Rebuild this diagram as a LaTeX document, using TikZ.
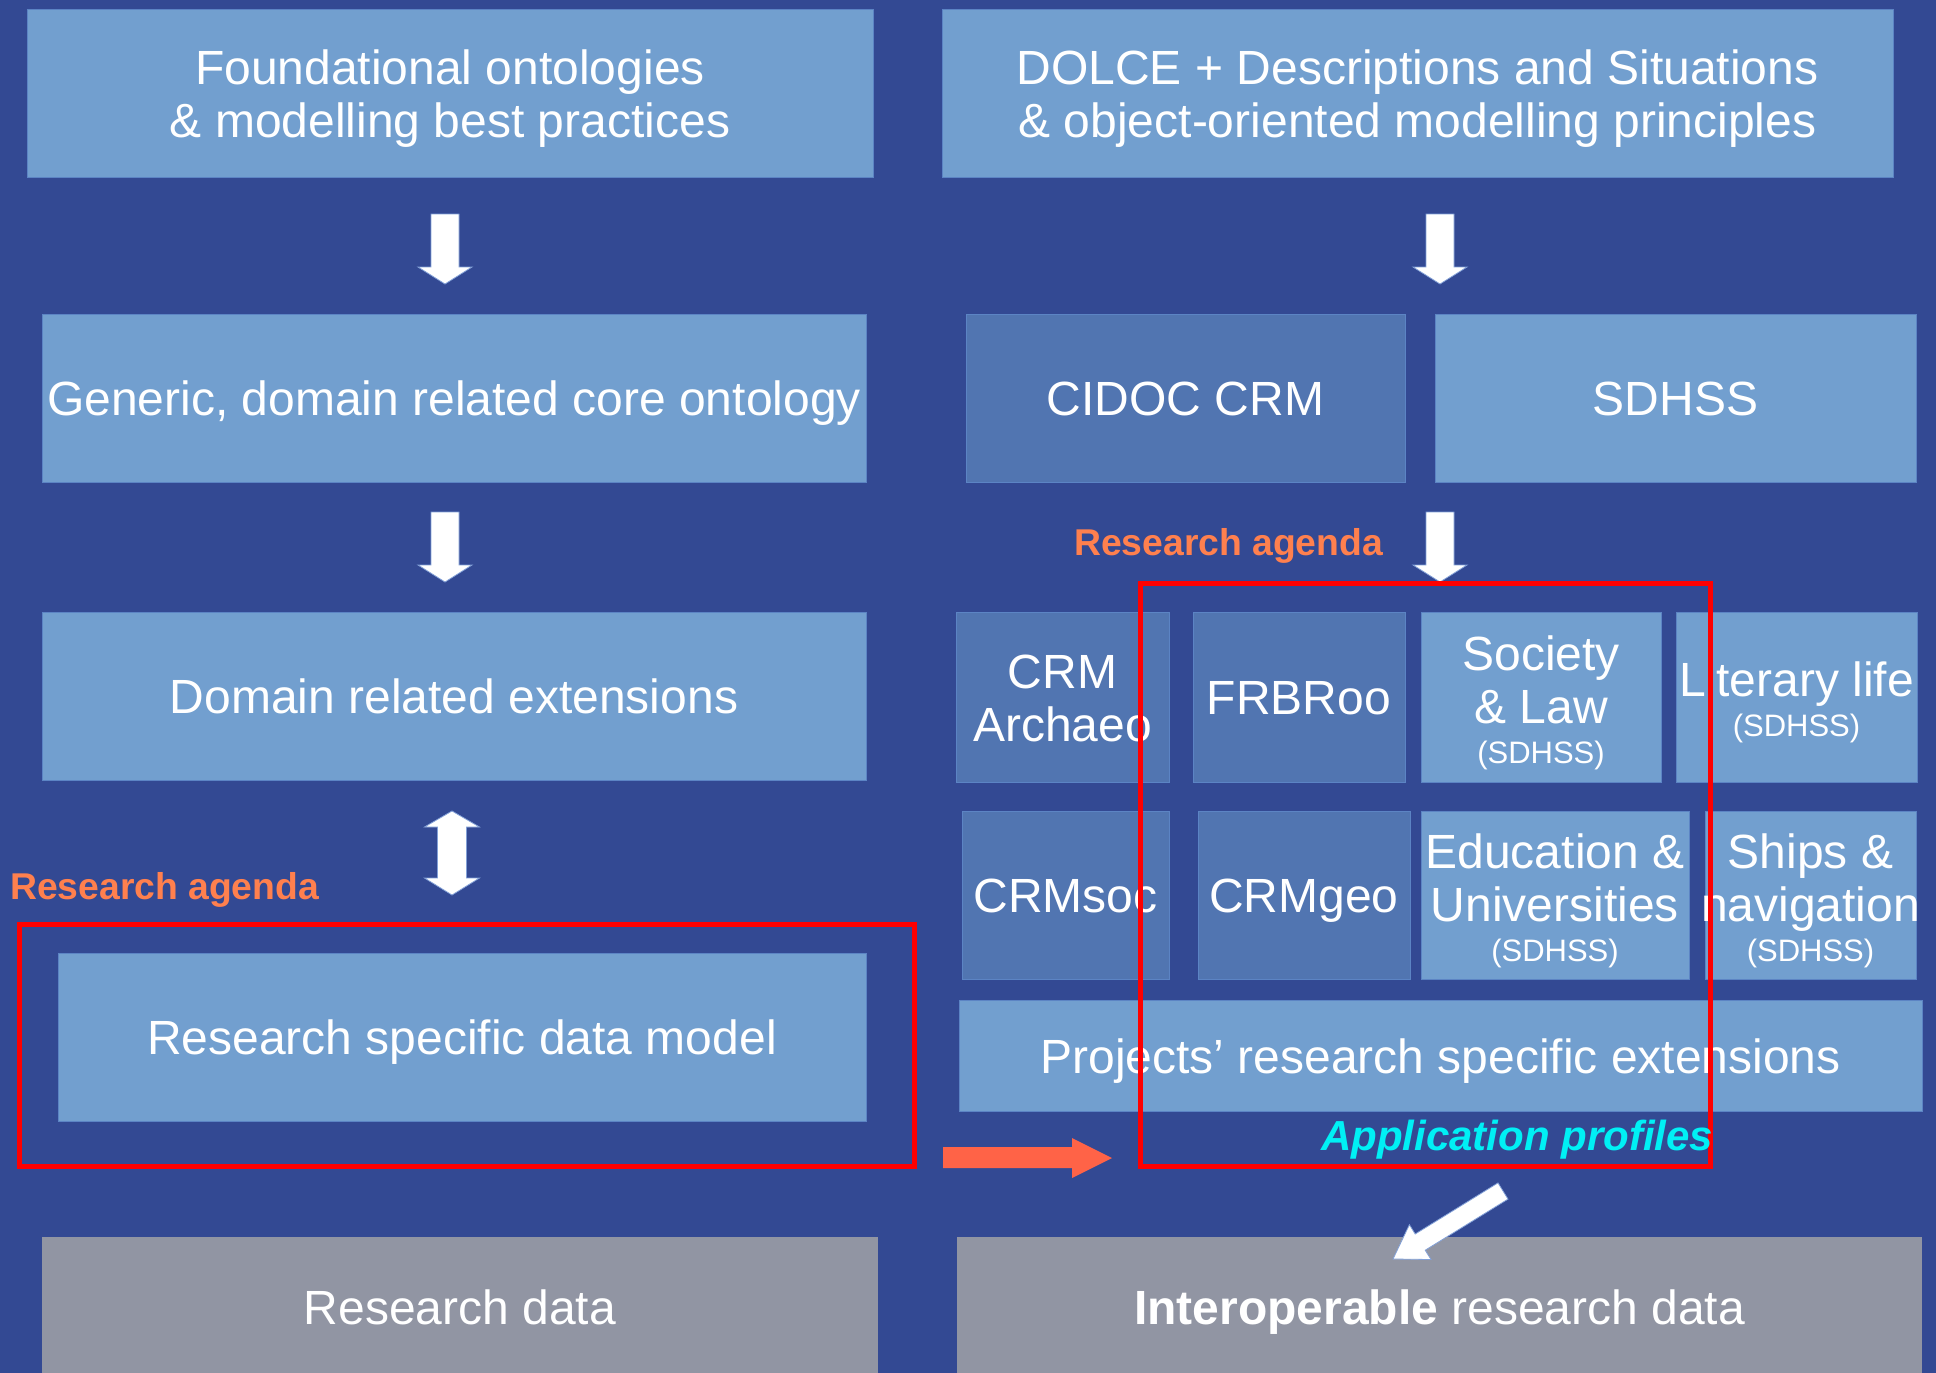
\documentclass[tikz,border=0pt]{standalone}
\usepackage{fontspec}
\setmainfont{Liberation Sans}
\definecolor{bg}{RGB}{51,73,147}
\definecolor{lightbox}{RGB}{114,159,207}
\definecolor{darkbox}{RGB}{81,117,177}
\definecolor{boxline}{RGB}{92,132,196}
\definecolor{graybox}{RGB}{145,149,163}
\definecolor{agenda}{RGB}{255,128,78}
\definecolor{orangearrow}{RGB}{255,99,71}
\definecolor{profiles}{RGB}{0,240,245}
\definecolor{redframe}{RGB}{255,0,0}
\definecolor{arrowline}{RGB}{130,160,215}
\newcommand{\sdfont}{\fontsize{31}{36}\selectfont}
\newcommand{\ts}{\rule{0pt}{46pt}}
\newcommand{\bs}{\rule[-11pt]{0pt}{11pt}}
\tikzset{
  box/.style={draw=boxline, line width=1pt, inner sep=0pt, outer sep=0pt,
    anchor=north west, text=white, align=center, font=\fontsize{48}{53}\selectfont},
  lbox/.style={box, fill=lightbox},
  dbox/.style={box, fill=darkbox},
  gbox/.style={box, fill=graybox, draw=none},
  agendalabel/.style={text=agenda, font=\fontsize{37.3}{41}\selectfont\bfseries, inner sep=0pt, anchor=base west},
  proflabel/.style={text=profiles, font=\fontsize{42}{46}\selectfont\bfseries\itshape, inner sep=0pt, anchor=base west},
  frame/.style={draw=redframe, line width=5pt},
  whitearrow/.style={fill=white, draw=arrowline, line width=0.8pt},
  downarr/.pic={\path[whitearrow] (-14,0) -- (14,0) -- (14,53) -- (27,53) -- (0,70) -- (-27,53) -- (-14,53) -- cycle;}
}
\begin{document}
\begin{tikzpicture}[x=1pt,y=-1pt]
\useasboundingbox (0,0) rectangle (1936,1373);
\clip (0,0) rectangle (1936,1373);
\fill[bg] (0,0) rectangle (1936,1373);

% top row
\node[lbox, minimum width=846, minimum height=168] (found) at (27,9) {\ts Foundational ontologies\\\& modelling best practices\bs};
\node[lbox, minimum width=951, minimum height=168] (dolce) at (942,9) {\ts DOLCE + Descriptions and Situations\\\& object-oriented modelling principles\bs};

% second row
\node[lbox, minimum width=824, minimum height=168] (generic) at (42,314) {\ts Generic, domain related core ontology\bs};
\node[dbox, minimum width=439, minimum height=168] (cidoc) at (966,314) {\ts CIDOC CRM\bs};
\node[lbox, minimum width=481, minimum height=168] (sdhss) at (1435,314) {\ts SDHSS\bs};

% third row
\node[lbox, minimum width=824, minimum height=168] (domain) at (42,612) {\ts Domain related extensions\bs};
\node[dbox, minimum width=213, minimum height=170] (archaeo) at (956,612) {\ts CRM\\Archaeo\bs};
\node[dbox, minimum width=212, minimum height=170] (frbroo) at (1193,612) {\ts FRBRoo\bs};
\node[lbox, minimum width=240, minimum height=170] (society) at (1421,612) {\ts Society\\\& Law\\[-13pt]{\sdfont (SDHSS)}};
\node[lbox, minimum width=241, minimum height=170] (literary) at (1676,612) {\ts Literary life\\[-13pt]{\sdfont (SDHSS)}};

% fourth row
\node[dbox, minimum width=207, minimum height=168] (crmsoc) at (962,811) {\ts CRMsoc\bs};
\node[dbox, minimum width=212, minimum height=168] (crmgeo) at (1198,811) {\ts CRMgeo\bs};
\node[lbox, minimum width=268, minimum height=168] (edu) at (1421,811) {\ts Education \&\\Universities\\[-13pt]{\sdfont (SDHSS)}};
\node[lbox, minimum width=211, minimum height=168] (ships) at (1705,811) {\ts Ships \&\\\makebox[200pt]{navigation}\\[-13pt]{\sdfont (SDHSS)}};

% fifth row
\node[lbox, minimum width=808, minimum height=168] (rsdm) at (58,953) {\ts Research specific data model\bs};
\node[lbox, minimum width=963, minimum height=111] (projects) at (959,1000) {\ts Projects’ research specific extensions\bs};

% bottom row
\node[gbox, minimum width=836, minimum height=140] (rdata) at (42,1237) {\ts Research data\bs};
\node[gbox, minimum width=965, minimum height=140] (idata) at (957,1237) {\ts\textbf{Interoperable} research data\bs};

% white block arrows
\pic at (445,214) {downarr};
\pic at (1440,214) {downarr};
\pic at (445,512) {downarr};
\pic at (1440,512) {downarr};
\path[whitearrow] (452,811) -- (479.5,827) -- (466.5,827) -- (466.5,878) -- (479.5,878) -- (452,895)
  -- (424.5,878) -- (437.5,878) -- (437.5,827) -- (424.5,827) -- cycle;
\path[whitearrow] (1498,1182.9) -- (1415.2,1234) -- (1409.4,1224.7) -- (1393,1259) -- (1431,1259.5)
  -- (1425.2,1250.2) -- (1508,1199.1) -- cycle;

% orange arrow
\fill[orangearrow] (943,1147) -- (1072,1147) -- (1072,1138) -- (1112,1158) -- (1072,1178) -- (1072,1168) -- (943,1168) -- cycle;

% red frames
\draw[frame] (19,924) rectangle (914,1166);
\draw[frame] (1140,583) rectangle (1710,1166);

% labels
\node[agendalabel] (ra1) at (10,899) {Research agenda};
\node[agendalabel] (ra2) at (1074,555) {Research agenda};
\node[proflabel] (ap) at (1321,1150) {Application profiles};
\end{tikzpicture}
\end{document}
